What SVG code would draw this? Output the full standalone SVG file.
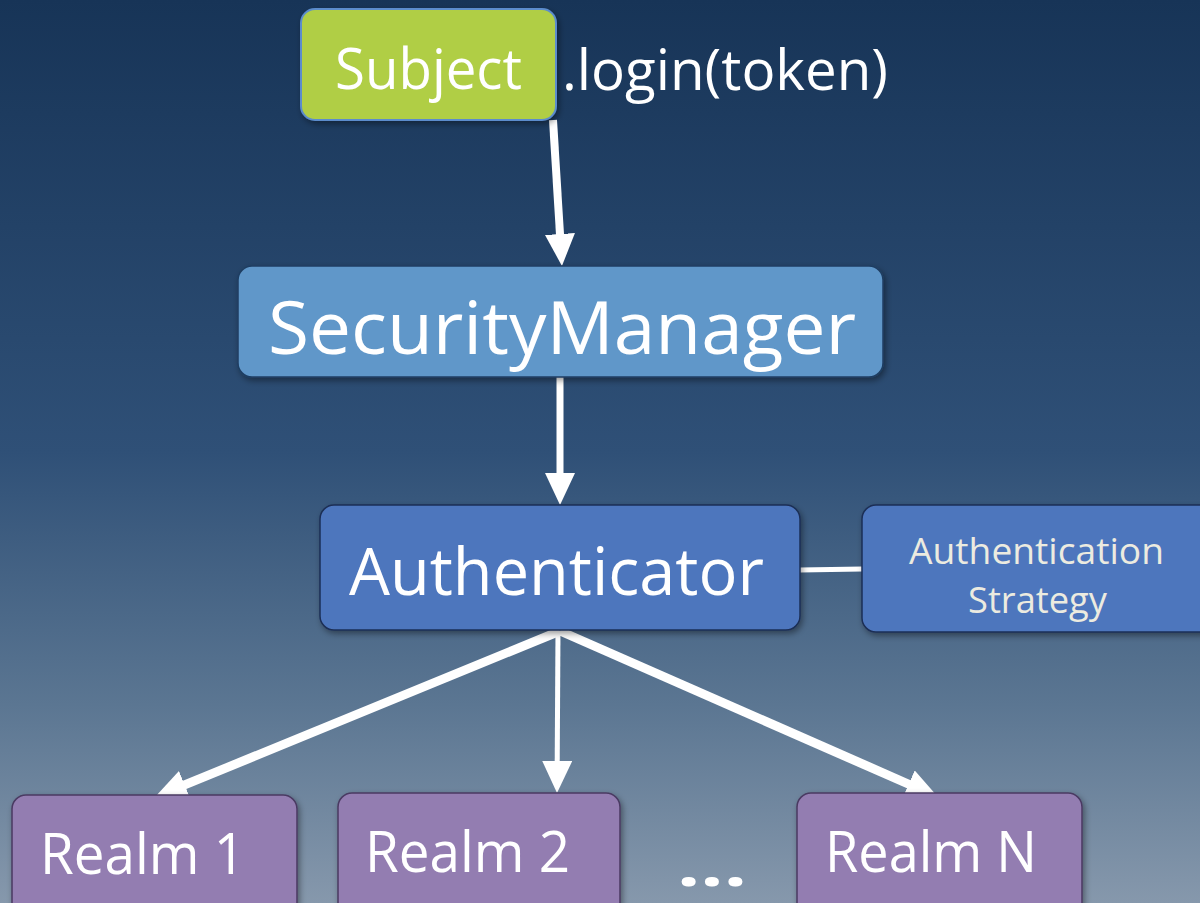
<svg xmlns="http://www.w3.org/2000/svg" width="1200" height="903" viewBox="0 0 1200 903">
  <defs>
    <linearGradient id="bg" x1="0" y1="0" x2="0" y2="1">
      <stop offset="0" stop-color="#173457"/>
      <stop offset="0.5" stop-color="#2f5077"/>
      <stop offset="0.78" stop-color="#5b7692"/>
      <stop offset="1" stop-color="#8698ac"/>
    </linearGradient>
    <filter id="sh" x="-10%" y="-10%" width="120%" height="130%">
      <feDropShadow dx="2" dy="3" stdDeviation="3" flood-color="#000" flood-opacity="0.4"/>
    </filter>
    <marker id="ah" markerUnits="userSpaceOnUse" markerWidth="34" markerHeight="30" refX="2" refY="15" orient="auto" viewBox="0 0 34 30">
      <path d="M0,0 L32,15 L0,30 z" fill="#ffffff"/>
    </marker>
    <style>
      .lbl { font-family: "Open Sans", "Noto Sans", "Liberation Sans", sans-serif; fill: #ffffff; }
      .box { filter: url(#sh); }
      .conn { stroke: #ffffff; fill: none; }
    </style>
  </defs>
  <rect x="0" y="0" width="1200" height="903" fill="url(#bg)"/>

  <g id="connectors">
    <line class="conn" x1="553" y1="120" x2="560.1" y2="236" stroke-width="8" marker-end="url(#ah)"/>
    <line class="conn" x1="560" y1="377" x2="560" y2="475" stroke-width="7" marker-end="url(#ah)"/>
    <line class="conn" x1="800" y1="570" x2="862" y2="569" stroke-width="5"/>
    <line class="conn" x1="560" y1="631" x2="182.8" y2="785.7" stroke-width="9" marker-end="url(#ah)"/>
    <line class="conn" x1="558" y1="631" x2="557.2" y2="763" stroke-width="5" marker-end="url(#ah)"/>
    <line class="conn" x1="560" y1="631" x2="910.5" y2="785" stroke-width="9" marker-end="url(#ah)"/>
  </g>

  <g id="subject">
    <rect class="box" x="301" y="9" width="255" height="111" rx="14" fill="#b0ce45" stroke="#5b8ccc" stroke-width="2"/>
    <text class="lbl" x="335" y="89" font-size="56" textLength="187" lengthAdjust="spacingAndGlyphs">Subject</text>
  </g>
  <g id="login-label">
    <text class="lbl" x="562" y="90" font-size="56" textLength="326" lengthAdjust="spacingAndGlyphs">.login(token)</text>
  </g>

  <g id="security-manager">
    <rect class="box" x="238" y="266" width="645" height="111" rx="14" fill="#6197c9" stroke="#1f3e62" stroke-width="1.5"/>
    <text class="lbl" x="268" y="354" font-size="73" textLength="588" lengthAdjust="spacingAndGlyphs">SecurityManager</text>
  </g>

  <g id="authenticator">
    <rect class="box" x="320" y="505" width="480" height="125" rx="14" fill="#4e76bd" stroke="#1b2f55" stroke-width="1.5"/>
    <text class="lbl" x="349" y="595" font-size="66" textLength="415" lengthAdjust="spacingAndGlyphs">Authenticator</text>
  </g>

  <g id="authentication-strategy">
    <rect class="box" x="862" y="505" width="360" height="127" rx="14" fill="#4e76bd" stroke="#1b2f55" stroke-width="1.5"/>
    <text class="lbl" x="909" y="564" font-size="37" style="fill:#ecebe0" textLength="255" lengthAdjust="spacingAndGlyphs">Authentication</text>
    <text class="lbl" x="968" y="613" font-size="37" style="fill:#ecebe0" textLength="139" lengthAdjust="spacingAndGlyphs">Strategy</text>
  </g>

  <g id="realm-1">
    <rect class="box" x="12" y="795" width="285" height="130" rx="14" fill="#937db1" stroke="#4a3a62" stroke-width="1.5"/>
    <text class="lbl" x="40" y="874" font-size="57" textLength="205" lengthAdjust="spacingAndGlyphs">Realm 1</text>
  </g>
  <g id="realm-2">
    <rect class="box" x="338" y="793" width="282" height="130" rx="14" fill="#937db1" stroke="#4a3a62" stroke-width="1.5"/>
    <text class="lbl" x="365" y="872" font-size="57" textLength="205" lengthAdjust="spacingAndGlyphs">Realm 2</text>
  </g>
  <g id="ellipsis">
    <text class="lbl" x="677" y="886" font-size="58" font-weight="bold" textLength="70" lengthAdjust="spacingAndGlyphs">...</text>
  </g>
  <g id="realm-n">
    <rect class="box" x="797" y="793" width="285" height="130" rx="14" fill="#937db1" stroke="#4a3a62" stroke-width="1.5"/>
    <text class="lbl" x="825" y="872" font-size="57" textLength="212" lengthAdjust="spacingAndGlyphs">Realm N</text>
  </g>
</svg>
